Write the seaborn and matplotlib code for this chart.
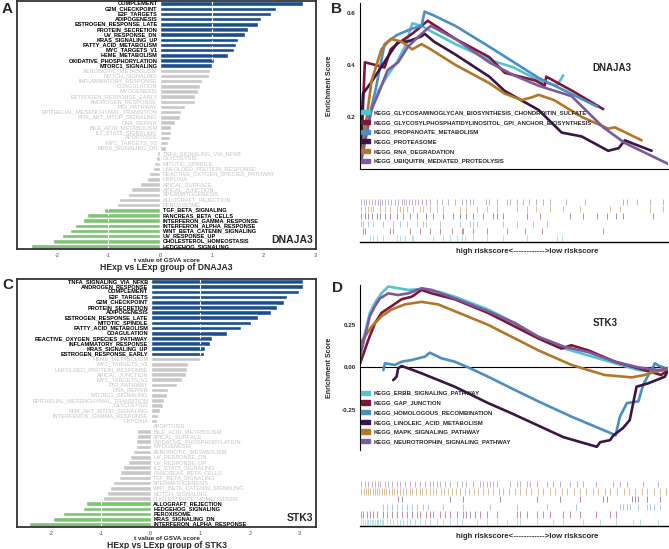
import matplotlib
matplotlib.use("Agg")
import matplotlib.pyplot as plt
from matplotlib.patches import Patch
import numpy as np
import pandas as pd
import seaborn as sns

# ---------------- data: GSVA t values (panels A / C) ----------------
A_terms = ["COMPLEMENT", "G2M_CHECKPOINT", "E2F_TARGETS", "ADIPOGENESIS", "ESTROGEN_RESPONSE_LATE",
           "PROTEIN_SECRETION", "UV_RESPONSE_DN", "KRAS_SIGNALING_UP", "FATTY_ACID_METABOLISM",
           "MYC_TARGETS_V1", "HEME_METABOLISM", "OXIDATIVE_PHOSPHORYLATION", "MTORC1_SIGNALING",
           "XENOBIOTIC_METABOLISM", "NOTCH_SIGNALING", "INFLAMMATORY_RESPONSE", "COAGULATION",
           "MYOGENESIS", "ESTROGEN_RESPONSE_EARLY", "ANDROGEN_RESPONSE", "P53_PATHWAY",
           "EPITHELIAL_MESENCHYMAL_TRANSITION", "PI3K_AKT_MTOR_SIGNALING", "DNA_REPAIR",
           "BILE_ACID_METABOLISM", "IL2_STAT5_SIGNALING", "APOPTOSIS", "MYC_TARGETS_V2",
           "KRAS_SIGNALING_DN", "TNFA_SIGNALING_VIA_NFKB", "GLYCOLYSIS", "MITOTIC_SPINDLE",
           "UNFOLDED_PROTEIN_RESPONSE", "REACTIVE_OXYGEN_SPECIES_PATHWAY", "HYPOXIA", "APICAL_SURFACE",
           "APICAL_JUNCTION", "SPERMATOGENESIS", "ALLOGRAFT_REJECTION", "PEROXISOME",
           "TGF_BETA_SIGNALING", "PANCREAS_BETA_CELLS", "INTERFERON_GAMMA_RESPONSE",
           "INTERFERON_ALPHA_RESPONSE", "WNT_BETA_CATENIN_SIGNALING", "UV_RESPONSE_UP",
           "CHOLESTEROL_HOMEOSTASIS", "HEDGEHOG_SIGNALING"]
A_t = [2.77, 2.24, 2.15, 1.95, 1.90, 1.70, 1.64, 1.51, 1.48, 1.44, 1.31, 1.05, 1.01,
       0.96, 0.94, 0.81, 0.78, 0.73, 0.67, 0.67, 0.49, 0.40, 0.39, 0.28, 0.22, 0.21, 0.20, 0.15, 0.11,
       -0.05, -0.08, -0.12, -0.14, -0.21, -0.26, -0.38, -0.56, -0.62, -0.80, -0.83,
       -1.09, -1.41, -1.50, -1.64, -1.75, -1.90, -2.07, -2.50]

C_terms = ["TNFA_SIGNALING_VIA_NFKB", "ANDROGEN_RESPONSE", "COMPLEMENT", "E2F_TARGETS", "G2M_CHECKPOINT",
           "PROTEIN_SECRETION", "ADIPOGENESIS", "ESTROGEN_RESPONSE_LATE", "MITOTIC_SPINDLE",
           "FATTY_ACID_METABOLISM", "COAGULATION", "REACTIVE_OXYGEN_SPECIES_PATHWAY",
           "INFLAMMATORY_RESPONSE", "KRAS_SIGNALING_UP", "ESTROGEN_RESPONSE_EARLY", "HEME_METABOLISM",
           "MYC_TARGETS_V1", "UNFOLDED_PROTEIN_RESPONSE", "APICAL_JUNCTION", "MYC_TARGETS_V2",
           "P53_PATHWAY", "DNA_REPAIR", "MTORC1_SIGNALING", "EPITHELIAL_MESENCHYMAL_TRANSITION",
           "GLYCOLYSIS", "PI3K_AKT_MTOR_SIGNALING", "INTERFERON_GAMMA_RESPONSE", "HYPOXIA", "APOPTOSIS",
           "BILE_ACID_METABOLISM", "APICAL_SURFACE", "OXIDATIVE_PHOSPHORYLATION", "MYOGENESIS",
           "XENOBIOTIC_METABOLISM", "UV_RESPONSE_DN", "UV_RESPONSE_UP", "IL2_STAT5_SIGNALING",
           "PANCREAS_BETA_CELLS", "TGF_BETA_SIGNALING", "SPERMATOGENESIS", "WNT_BETA_CATENIN_SIGNALING",
           "NOTCH_SIGNALING", "CHOLESTEROL_HOMEOSTASIS", "ALLOGRAFT_REJECTION", "HEDGEHOG_SIGNALING",
           "PEROXISOME", "KRAS_SIGNALING_DN", "INTERFERON_ALPHA_RESPONSE"]
C_t = [3.07, 3.07, 3.00, 2.76, 2.69, 2.55, 2.43, 2.16, 2.03, 1.82, 1.54, 1.23, 1.19, 1.10, 1.07,
       0.99, 0.75, 0.74, 0.72, 0.63, 0.53, 0.36, 0.32, 0.26, 0.24, 0.19, 0.14, 0.12,
       -0.01, -0.28, -0.28, -0.30, -0.30, -0.36, -0.42, -0.46, -0.55, -0.61, -0.64, -0.77, -0.82,
       -0.88, -0.96, -1.31, -1.36, -1.78, -1.97, -2.45]

# ---------------- data: GSEA running scores (panels B / D), x = % of ranked list ----------------
B_sets = ["KEGG_GLYCOSAMINOGLYCAN_BIOSYNTHESIS_CHONDROITIN_SULFATE",
          "KEGG_GLYCOSYLPHOSPHATIDYLINOSITOL_GPI_ANCHOR_BIOSYNTHESIS",
          "KEGG_PROPANOATE_METABOLISM", "KEGG_PROTEASOME", "KEGG_RNA_DEGRADATION",
          "KEGG_UBIQUITIN_MEDIATED_PROTEOLYSIS"]
B_x1 = [0.5, 3, 6, 9, 12, 15, 17, 20, 23, 31, 42, 50, 58, 64, 66]
B_y1 = [0.13, 0.2, 0.3, 0.36, 0.41, 0.48, 0.56, 0.55, 0.53, 0.48, 0.42, 0.39, 0.34, 0.32, 0.36]
B_x2 = [0.5, 1.6, 5, 8, 10, 12, 17, 22, 31, 42, 47, 57, 60, 60.5, 69, 79]
B_y2 = [0.1, 0.41, 0.40, 0.39, 0.46, 0.48, 0.52, 0.57, 0.5, 0.43, 0.37, 0.34, 0.32, 0.355, 0.30, 0.23]
B_x3 = [0.5, 3, 5, 8, 12, 17, 20, 21, 24, 31, 42, 50, 58, 65, 77]
B_y3 = [0.12, 0.2, 0.3, 0.48, 0.515, 0.54, 0.55, 0.605, 0.59, 0.55, 0.47, 0.41, 0.35, 0.31, 0.24]
B_x4 = [0, 1, 3.5, 9, 12.4, 15.6, 20, 21, 24, 31, 42, 47, 58, 65.5, 72, 80.6, 84, 86, 94.7]
B_y4 = [0.02, 0.29, 0.33, 0.43, 0.49, 0.49, 0.51, 0.52, 0.49, 0.44, 0.355, 0.3, 0.227, 0.14, 0.125,
        0.07, 0.08, 0.11, 0.07]
B_x5 = [0.5, 3.8, 7, 10, 13.5, 17, 20, 23, 31, 42, 47, 52.5, 55.7, 58, 63, 72, 80.6, 82.8, 91.5]
B_y5 = [0.045, 0.34, 0.46, 0.5, 0.49, 0.46, 0.48, 0.46, 0.4, 0.33, 0.29, 0.265, 0.275, 0.285, 0.265,
        0.2, 0.155, 0.16, 0.11]
B_x6 = [0.5, 3.8, 6, 9, 12.4, 15.6, 20, 23, 31, 42, 50, 58, 68.7, 79, 86, 100]
B_y6 = [0.035, 0.23, 0.29, 0.38, 0.41, 0.47, 0.52, 0.55, 0.5, 0.41, 0.36, 0.32, 0.28, 0.16, 0.1, 0.02]

D_sets = ["KEGG_ERBB_SIGNALING_PATHWAY", "KEGG_GAP_JUNCTION", "KEGG_HOMOLOGOUS_RECOMBINATION",
          "KEGG_LINOLEIC_ACID_METABOLISM", "KEGG_MAPK_SIGNALING_PATHWAY",
          "KEGG_NEUROTROPHIN_SIGNALING_PATHWAY"]
D_x1 = [0, 1.6, 3.2, 4.9, 7, 9.2, 12.4, 15.7, 20, 25.4, 30.8, 41.6, 50.3, 57.9, 66.5, 74.1, 82.8,
        90.4, 95.8, 100]
D_y1 = [0.1, 0.2, 0.32, 0.38, 0.435, 0.475, 0.465, 0.455, 0.46, 0.445, 0.415, 0.34, 0.26, 0.18,
        0.11, 0.07, 0.024, -0.016, -0.025, -0.01]
D_x2 = [0, 2.7, 4.9, 7, 10.3, 13.5, 16.8, 20, 23.3, 30.8, 41.6, 50.3, 57.9, 65.4, 68.6, 74.1, 82.8,
        90.4, 97.8, 100]
D_y2 = [0.02, 0.16, 0.26, 0.32, 0.36, 0.4, 0.415, 0.455, 0.435, 0.4, 0.32, 0.24, 0.17, 0.11, 0.13,
        0.1, 0.033, -0.006, -0.045, -0.016]
D_x3 = [7.6, 8.1, 11.4, 13.5, 16.8, 21.1, 22.7, 26.5, 30.8, 35.1, 41.6, 50.3, 57.9, 68.7, 81.2, 83,
        84.4, 86.7, 90.4, 92, 94, 95.8, 97, 100]
D_y3 = [-0.016, 0.024, 0.014, 0.033, 0.043, 0.063, 0.086, 0.053, 0.033, 0.0, -0.055, -0.133, -0.2,
        -0.29, -0.385, -0.40, -0.29, -0.21, -0.2, -0.1, -0.035, 0.024, 0.01, -0.01]
D_x4 = [10.8, 11.9, 12.4, 13.5, 15.7, 20, 30.8, 41.6, 49.2, 66, 76.9, 78, 81.2, 82.3, 85.4, 87.6,
        89.8, 93.6, 99, 100]
D_y4 = [-0.075, -0.055, -0.006, 0.008, -0.006, -0.035, -0.114, -0.21, -0.27, -0.41, -0.467, -0.44,
        -0.428, -0.40, -0.357, -0.31, -0.114, -0.094, -0.055, -0.016]
D_x5 = [0, 1.6, 3.8, 7, 10.3, 14.6, 20, 25.4, 30.8, 41.6, 50.3, 57.9, 68.7, 74.1, 79.5, 88.2, 92.5,
        95.8, 100]
D_y5 = [0.14, 0.18, 0.24, 0.3, 0.34, 0.37, 0.385, 0.37, 0.33, 0.25, 0.17, 0.1, 0.014, -0.016,
        -0.045, -0.059, -0.045, -0.025, -0.012]
D_x6 = [0, 1.6, 3.2, 4.9, 6.5, 9.2, 12.4, 15.7, 20, 23.3, 30.8, 41.6, 50.3, 57.9, 66.5, 74.1, 82.8,
        90.4, 96.9, 100]
D_y6 = [0.06, 0.18, 0.3, 0.36, 0.405, 0.435, 0.425, 0.435, 0.465, 0.455, 0.405, 0.33, 0.26, 0.18,
        0.12, 0.09, 0.033, 0.0, -0.016, -0.006]

# ---------------- data: gene-set hit positions (rug rows) ----------------
B_hits1 = [3.2, 4.3, 5.4, 7.6, 11.9, 13, 14.6, 16.8, 17.3, 23.8, 27, 29.2, 31.4, 33, 34.1, 36.8,
           41.1, 46.5, 54.1, 63.9, 65.5]
B_hits2 = [1.1, 1.6, 9.7, 10.8, 16.2, 19.5, 22.7, 26, 29.8, 33, 33.5, 36.8, 41.1, 47.6, 53.6, 59, 79]
B_hits3 = [0.5, 1.1, 2.7, 4.3, 7.6, 10.8, 13, 15.2, 18.4, 20.6, 21.6, 26, 32.5, 35.7, 36.8, 37.9,
           46.5, 50.9, 56.3, 60.6]
B_hits4 = [0.5, 1.6, 2.7, 3.8, 5.4, 6.5, 8.1, 9.7, 11.9, 14.1, 16.2, 18.4, 21.6, 23.8, 27, 30.3,
           32.5, 34.6, 36.8, 40, 43.3, 44.4, 46.5, 54.1, 58.4, 68.2, 72.5, 76.9, 80.1, 83.3, 85.5, 95.2]
B_hits5 = [0.5, 1.5, 2.5, 3.5, 4.3, 6.5, 8.1, 9.7, 11.9, 13, 14, 15.2, 17.3, 19.5, 20.6, 22.7,
           24.9, 27, 32.5, 34.6, 37.9, 41.1, 44.4, 50.9, 54.1, 57.3, 61.7, 66, 71.4, 81.2, 84.4, 94.2,
           98.5]
B_hits6 = [0.5, 1.2, 2, 3, 3.8, 4.8, 5.8, 6.5, 7.3, 8, 9, 10, 11.5, 12.5, 13.5, 14.3, 15, 16, 17,
           18, 19, 20, 21.5, 22.7, 25, 26.5, 28.7, 30.8, 33, 34.6, 35.7, 36.8, 41, 42, 44.4, 47.6,
           48.7, 50.9, 53, 55, 57.3, 59.5, 61.7, 67, 73, 85.5, 86.6, 89.8, 94.2, 98.5]

D_hits1 = [0.5, 1.1, 1.6, 2.2, 2.7, 3.2, 3.8, 4.3, 4.9, 5.4, 6, 6.5, 7.1, 7.6, 8.7, 9.7, 10.8,
           11.9, 13, 14.1, 15.2, 16.2, 17.9, 19.5, 21.1, 22.7, 24.9, 27, 29.2, 31.4, 33, 37.9, 41.1,
           44.4, 47.6, 50.9, 52, 57.4, 62.8, 66, 72.5, 77.9, 83.3, 88.8, 91, 96.9]
D_hits2 = [0.5, 1.1, 2.2, 3.2, 4.3, 5.4, 7.6, 8.7, 10.3, 11.9, 13.5, 15.2, 16.8, 18.4, 19.5, 21.6,
           22.7, 23.8, 26, 27.6, 29.2, 31.4, 33.5, 34.6, 35.7, 37.4, 39, 41.1, 44.4, 50.9, 52, 54.1,
           57.4, 59.5, 61.7, 66, 68.2, 71.4, 76.8, 81.2, 83.3]
D_hits3 = [7.6, 8.7, 10.5, 11.9, 13.5, 15.2, 16.8, 18.4, 20.6, 22.1, 27, 33.5, 42.2, 50.9, 60.6,
           70, 84.4, 85.5, 86.6, 87.7, 90.3, 93.3, 94.2, 95.5, 97.4]
D_hits4 = [12.4, 13.5, 29.2, 33.5, 45.4, 57.4, 65, 71.4, 79, 80.1, 88.2, 89.2, 90.3, 93.3, 97.4]
D_hits5 = [0.5, 1.2, 1.9, 2.6, 3.3, 4.1, 4.8, 5.6, 6.3, 7.1, 7.9, 8.6, 9.5, 10.3, 11.2, 12.1, 13.1,
           14, 15, 16.1, 17, 18.2, 19.4, 20.3, 21.5, 22.7, 23.6, 24.8, 26.2, 27.3, 28.5, 29.9, 31.2,
           32.6, 34, 35.4, 36.9, 38.3, 40.1, 41.7, 43.2, 45, 46.6, 48.3, 50.2, 52.1, 53.8, 55.6, 57.7,
           59.5, 61.6, 63.4, 65.5, 67.3, 69.4, 71.5, 73.3, 75.6, 77.4, 79.5, 81.3, 83.4, 85.6, 87.2,
           89.4, 91.5, 93.3, 95.5, 97.4, 99.3]
D_hits6 = [0.5, 1.6, 2.7, 3.8, 4.9, 5.9, 6.5, 8.1, 9.2, 10.3, 11.9, 13, 14.6, 16.2, 17.9, 19.5,
           21.1, 22.7, 23.8, 24.9, 26, 27.6, 29.2, 31.4, 33, 34.6, 36.8, 39, 40, 41.1, 42.2, 43.3,
           44.4, 48.7, 50.9, 52, 54.1, 55.2, 57.4, 60.6, 62.8, 65, 68.2, 70.4, 72.5, 76.8, 82.3, 84.4,
           86.6, 92, 96.9]

line_colors = ["#55c3cf", "#7e1636", "#4c8dc2", "#3a1545", "#b27628", "#7a5b9e"]
bar_palette = {"up": "#1b4e8c", "ns": "#c9c6c6", "down": "#7cc471"}

sns.set_style("white")
plt.rcParams["font.family"] = ["Liberation Sans", "DejaVu Sans"]

fig = plt.figure(figsize=(6.69, 5.49), dpi=100)


def draw_bars(ax, terms, tvals, gene, xlim):
    df = pd.DataFrame({"term": terms, "t": tvals})
    df["grp"] = np.where(df["t"] > 1, "up", np.where(df["t"] < -1, "down", "ns"))
    sns.barplot(data=df, x="t", y="term", hue="grp", palette=bar_palette, order=terms,
                dodge=False, width=0.88, orient="h", saturation=1, legend=False, ax=ax)
    n = len(terms)
    ax.set_ylim(n - 0.5, -0.5)
    ax.set_xlim(*xlim)
    for xv in (-1, 1):
        ax.axvline(xv, color="white", ls=(0, (3, 2)), lw=0.8)
    for i, (term, t, g) in enumerate(zip(df["term"], df["t"], df["grp"])):
        sig = g != "ns"
        ax.text(-0.05 if t >= 0 else 0.05, i, term,
                ha="right" if t >= 0 else "left", va="center",
                fontsize=4.1, fontweight="bold" if sig else "normal",
                color="black" if sig else "#c4c2c2")
    ax.set_yticks([])
    ax.set_ylabel("")
    ax.set_xlabel("")
    ax.set_xticks([-2, -1, 0, 1, 2, 3])
    ax.set_xticklabels(["-2", "-1", "0", "1", "2", "3"])
    ax.tick_params(axis="x", labelsize=4, length=2, width=0.6, pad=1, colors="#4d4d4d")
    for s in ax.spines.values():
        s.set_color("#333333")
        s.set_linewidth(1.3)
    ax.text(0.99, 0.035, gene, transform=ax.transAxes, ha="right", va="center",
            fontsize=7.5, fontweight="bold")


def draw_es(ax, names, xs, ys, gene, ylim, yticks, yticklabels, gene_pos, show_bottom, leg_top):
    parts = []
    for nm, xv, yv in zip(names, xs, ys):
        parts.append(pd.DataFrame({"x": xv, "y": yv, "set": nm}))
    df = pd.concat(parts, ignore_index=True)
    sns.lineplot(data=df, x="x", y="y", hue="set", hue_order=names, palette=line_colors,
                 sort=False, estimator=None, lw=1.9, legend=False, ax=ax)
    ax.set_xlim(0, 100)
    ax.set_ylim(*ylim)
    ax.set_xticks([])
    ax.set_yticks(yticks)
    ax.set_yticklabels(yticklabels, fontweight="bold")
    ax.tick_params(axis="y", labelsize=4.5, length=2, width=0.7, pad=1)
    ax.set_xlabel("")
    ax.set_ylabel("Enrichment Score", fontsize=5, fontweight="bold")
    ax.yaxis.set_label_coords(-0.088, 0.5)
    for s in ("top", "right"):
        ax.spines[s].set_visible(False)
    ax.spines["left"].set_color("black")
    ax.spines["left"].set_linewidth(0.8)
    if show_bottom:
        ax.spines["bottom"].set_color("black")
        ax.spines["bottom"].set_linewidth(0.8)
    else:
        ax.spines["bottom"].set_visible(False)
        ax.axhline(0, color="black", lw=0.8, zorder=0)
    handles = [Patch(color=c) for c in line_colors]
    ax.legend(handles, names, loc="upper left", bbox_to_anchor=(0.005, leg_top), frameon=False,
              prop={"family": "Liberation Sans", "weight": "bold", "size": 4.3},
              handlelength=1.4, handleheight=0.7, handletextpad=0.6, labelspacing=0.76,
              borderaxespad=0, borderpad=0)
    ax.text(gene_pos[0], gene_pos[1], gene, transform=ax.transAxes, ha="center", va="center",
            fontsize=7, fontweight="bold")


def draw_rug(ax, hits):
    for i, (h, c) in enumerate(zip(hits, line_colors)):
        ax.vlines(h, i + 0.1, i + 0.9, color=c, alpha=0.55, lw=0.6)
    ax.set_xlim(0, 100)
    ax.set_ylim(0, 6)
    ax.set_xticks([])
    ax.set_yticks([])
    for s in ("top", "right", "left"):
        ax.spines[s].set_visible(False)
    ax.spines["bottom"].set_color("black")
    ax.spines["bottom"].set_linewidth(1.0)


# panel A
axA = fig.add_axes([0.0254, 0.5464, 0.447, 0.4517])
draw_bars(axA, A_terms, A_t, "DNAJA3", (-2.77, 3.02))
axA.text(0.5, -0.048, "t value of GSVA score", transform=axA.transAxes, ha="center", va="center",
         fontsize=4.6, fontweight="bold")
axA.text(0.5, -0.074, "HExp vs LExp group of DNAJA3", transform=axA.transAxes, ha="center",
         va="center", fontsize=6.2, fontweight="bold")

# panel C
axC = fig.add_axes([0.0254, 0.0401, 0.447, 0.4517])
draw_bars(axC, C_terms, C_t, "STK3", (-2.70, 3.34))
axC.text(0.5, -0.045, "t value of GSVA score", transform=axC.transAxes, ha="center", va="center",
         fontsize=4.6, fontweight="bold")
axC.text(0.5, -0.073, "HExp vs LExp group of STK3", transform=axC.transAxes, ha="center",
         va="center", fontsize=6.2, fontweight="bold")

# panel B
axB = fig.add_axes([0.538, 0.6922, 0.4604, 0.3023])
draw_es(axB, B_sets, [B_x1, B_x2, B_x3, B_x4, B_x5, B_x6], [B_y1, B_y2, B_y3, B_y4, B_y5, B_y6],
        "DNAJA3", (0.0, 0.638), [0.2, 0.4, 0.6], ["0.2", "0.4", "0.6"], (0.818, 0.608), True, 0.355)
axBr = fig.add_axes([0.538, 0.5592, 0.4604, 0.0801])
draw_rug(axBr, [B_hits1, B_hits2, B_hits3, B_hits4, B_hits5, B_hits6])
fig.text(0.7877, 0.541, "high riskscore<------------>low riskscore", ha="center", va="center",
         fontsize=5.6, fontweight="bold")

# panel D
axD = fig.add_axes([0.538, 0.1803, 0.4604, 0.3006])
draw_es(axD, D_sets, [D_x1, D_x2, D_x3, D_x4, D_x5, D_x6], [D_y1, D_y2, D_y3, D_y4, D_y5, D_y6],
        "STK3", (-0.486, 0.484), [-0.25, 0.0, 0.25], ["-0.25", "0.00", "0.25"], (0.795, 0.77), False,
        0.36)
axDr = fig.add_axes([0.538, 0.0419, 0.4604, 0.0838])
draw_rug(axDr, [D_hits1, D_hits2, D_hits3, D_hits4, D_hits5, D_hits6])
fig.text(0.7877, 0.0224, "high riskscore<------------>low riskscore", ha="center", va="center",
         fontsize=5.6, fontweight="bold")

# panel letters
for lab, x, y in [("A", 0.003, 0.984), ("B", 0.495, 0.984), ("C", 0.003, 0.481), ("D", 0.497, 0.475)]:
    fig.text(x, y, lab, fontsize=11, fontweight="bold", ha="left", va="center")

fig.savefig("out.png", dpi=100)
